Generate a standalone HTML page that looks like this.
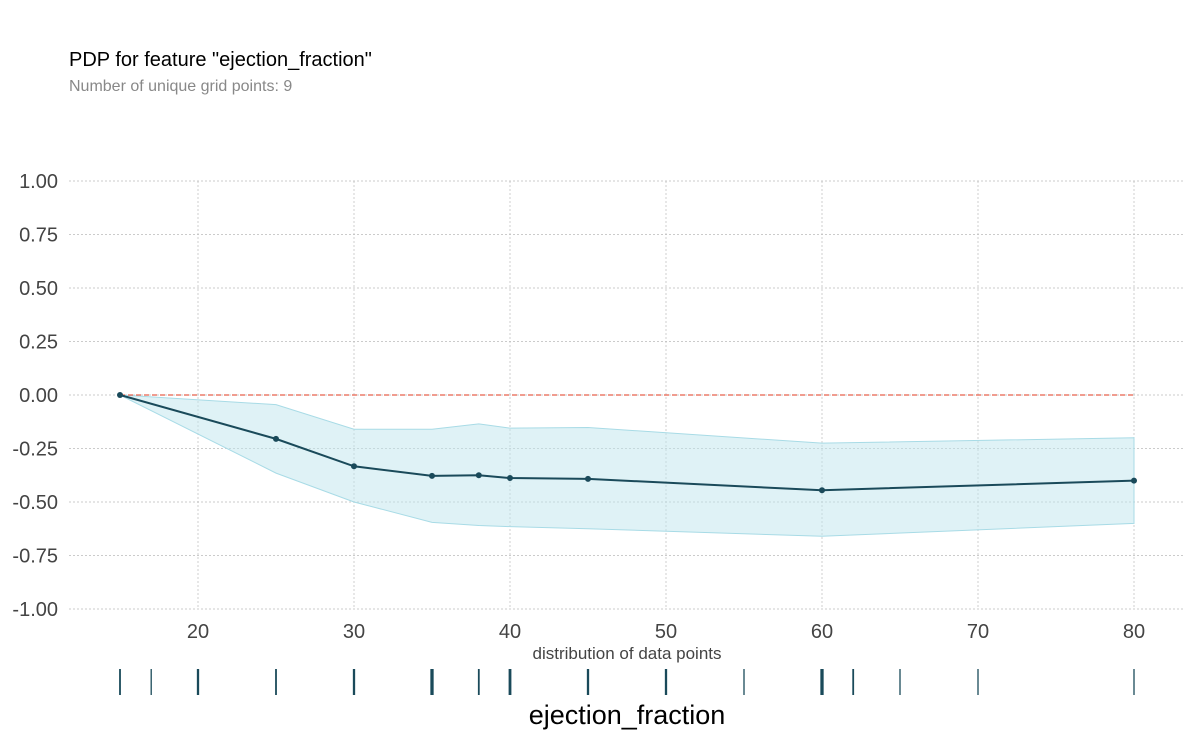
<!DOCTYPE html>
<html><head><meta charset="utf-8"><style>
body{margin:0;background:#fff;font-family:"Liberation Sans",sans-serif}
svg text{font-family:"Liberation Sans",sans-serif}
</style></head><body>
<svg id="chart" width="1195" height="738" xmlns="http://www.w3.org/2000/svg">
<text x="69" y="66" font-size="20" fill="#000">PDP for feature "ejection_fraction"</text>
<text x="69" y="91" font-size="16" fill="#888">Number of unique grid points: 9</text>
<g id="grid"></g><g id="band"></g><g id="plot"></g><g id="rug"></g>
<text x="627" y="659" font-size="17" fill="#444" text-anchor="middle">distribution of data points</text>
<text x="627" y="724" font-size="27" fill="#000" text-anchor="middle">ejection_fraction</text>
</svg>
<script>
const xs=[15,25,30,35,38,40,45,60,80];
const ys=[0,-0.205,-0.333,-0.378,-0.375,-0.388,-0.392,-0.445,-0.40];
const upper=[0,-0.045,-0.16,-0.16,-0.135,-0.155,-0.152,-0.225,-0.2];
const lower=[0,-0.365,-0.5,-0.595,-0.61,-0.615,-0.625,-0.66,-0.6];
const xTicks=[20,30,40,50,60,70,80];
const yTicks=[1,0.75,0.5,0.25,0,-0.25,-0.5,-0.75,-1];
const rugVals=[15,17,20,25,30,35,38,40,45,50,55,60,62,65,70,80];
const rugWeights=[1.5,1,2,1.5,2,3,1.5,2.5,2,2,1,3,1.5,1,1,1];
const NS="http://www.w3.org/2000/svg";
const X=v=>120+(v-15)*15.6, Y=v=>395-v*214;
function mk(p,t,a){const e=document.createElementNS(NS,t);for(const k in a)e.setAttribute(k,a[k]);document.getElementById(p).appendChild(e);return e;}
yTicks.forEach(t=>{
 const l=mk('grid','line',{x1:69,x2:1185,y1:Y(t),y2:Y(t),stroke:'#bbb','stroke-width':0.7,'stroke-dasharray':'2,2'});
 
 const tx=mk('grid','text',{x:58,y:Y(t)+7,'font-size':20,fill:'#444','text-anchor':'end'});
 tx.textContent=t.toFixed(2);
 
});
xTicks.forEach(t=>{
 const l=mk('grid','line',{x1:X(t),x2:X(t),y1:181,y2:609,stroke:'#bbb','stroke-width':0.7,'stroke-dasharray':'2,2'});
 
 const tx=mk('grid','text',{x:X(t),y:638,'font-size':20,fill:'#444','text-anchor':'middle'});
 tx.textContent=t;
 
});
let d=xs.map((x,i)=>(i?'L':'M')+X(x)+','+Y(upper[i])).join('')+xs.slice().reverse().map((x,j)=>'L'+X(x)+','+Y(lower[xs.length-1-j])).join('')+'Z';
const b=mk('band','path',{d:d,fill:'#bfe6ee','fill-opacity':0.5,stroke:'#a8dbe6','stroke-width':1});

const z=mk('plot','line',{x1:X(15),x2:X(80),y1:Y(0),y2:Y(0),stroke:'#e8604c','stroke-width':1.3,'stroke-dasharray':'5,3'});

const pl=mk('plot','polyline',{points:xs.map((x,i)=>X(x)+','+Y(ys[i])).join(' '),fill:'none',stroke:'#1a4a5a','stroke-width':2});

xs.forEach((x,i)=>{const c=mk('plot','circle',{cx:X(x),cy:Y(ys[i]),r:3,fill:'#1a4a5a'});
 });
rugVals.forEach((v,i)=>{const l=mk('rug','line',{x1:X(v),x2:X(v),y1:669,y2:695,stroke:'#1a4a5a','stroke-width':rugWeights[i]+0.3});
 });
</script>
</body></html>
